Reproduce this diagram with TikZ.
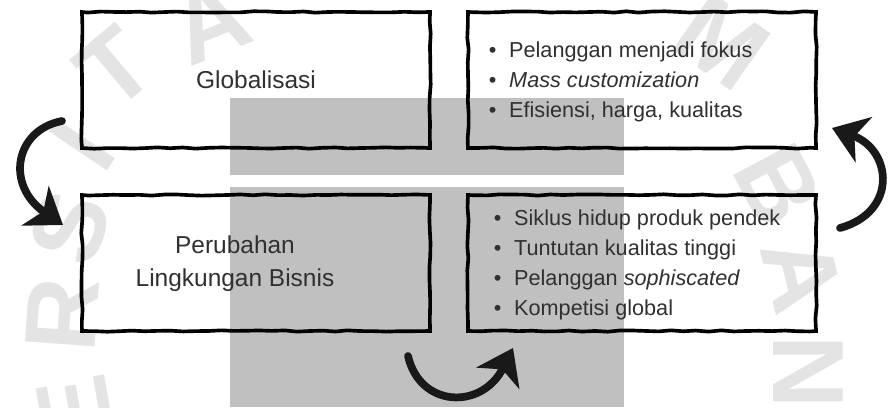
\documentclass[tikz,border=0pt]{standalone}
\usepackage{fontspec}
\setmainfont{Liberation Sans}
\usetikzlibrary{arrows.meta,decorations.pathmorphing}
\definecolor{logogrey}{RGB}{192,192,192}
\definecolor{markgrey}{RGB}{228,228,228}
\definecolor{textgrey}{RGB}{48,48,48}

\begin{document}
\begin{tikzpicture}[x=0.025cm, y=-0.025cm,
    kotak/.style={draw=black, line width=2.6pt, minimum width=8.7cm, minimum height=3.4cm,
        decorate, decoration={random steps, segment length=9pt, amplitude=0.5pt}},
    judul/.style={text=textgrey, font=\fontsize{17.4}{23.5}\selectfont, align=center},
    daftar/.style={text=textgrey, font=\fontsize{15.4}{21.3}\selectfont, align=left, anchor=west},
    panah/.style={line width=5.5pt, black!90, line cap=round,
        -{Stealth[length=24pt, width=34pt, inset=7pt]}},
    huruf/.style={text=markgrey, font=\fontsize{72}{72}\selectfont\bfseries}]
    \useasboundingbox (0,0) rectangle (892,407);
    \clip (0,0) rectangle (892,407);

    % Latar belakang (watermark)
    \node at (115,68) (m1) [huruf, rotate=40] {T};
    \node at (210,22) (m2) [huruf, rotate=22] {A};
    \node at (82,145) (m3) [huruf, rotate=56] {I};
    \node at (70,228) (m4) [huruf, rotate=72] {S};
    \node at (62,315) (m5) [huruf, rotate=86] {R};
    \node at (75,410) (m6) [huruf, rotate=100] {E};
    \node at (722,42) (m7) [huruf, rotate=-35] {M};
    \node at (778,185) (m8) [huruf, rotate=-62] {B};
    \node at (802,275) (m9) [huruf, rotate=-76] {A};
    \node at (808,372) (m10) [huruf, rotate=-90] {N};
    \fill[logogrey] (230,98) rectangle (624,175);
    \fill[logogrey] (230,187) rectangle (624,407);

    % Kotak
    \node at (256,80) (glob) [kotak] {};
    \node at (642,80) (fokus) [kotak] {};
    \node at (256,263) (ling) [kotak] {};
    \node at (642,263) (dampak) [kotak] {};

    % Teks
    \node at (256,80) (tglob) [judul] {Globalisasi};
    \node at (235,264) (tling) [judul] {Perubahan\\Lingkungan Bisnis};
    \node at (484,82) (tfokus) [daftar] {\textbullet\hspace{9pt}Pelanggan menjadi fokus\\
        \textbullet\hspace{9pt}\textit{Mass customization}\\
        \textbullet\hspace{9pt}Efisiensi, harga, kualitas};
    \node at (489,265) (tdampak) [daftar] {\textbullet\hspace{9pt}Siklus hidup produk pendek\\
        \textbullet\hspace{9pt}Tuntutan kualitas tinggi\\
        \textbullet\hspace{9pt}Pelanggan \textit{sophiscated}\\
        \textbullet\hspace{9pt}Kompetisi global};

    % Panah
    \coordinate (p1) at (62,121);
    \coordinate (p2) at (63,225);
    \coordinate (p3) at (408,356);
    \coordinate (p4) at (513,348);
    \coordinate (p5) at (840,228);
    \coordinate (p6) at (832,128);
    \draw[panah] (p1) .. controls (15,130) and (5,185) .. (p2);
    \draw[panah] (p3) .. controls (420,408) and (482,410) .. (p4);
    \draw[panah] (p5) .. controls (898,212) and (892,150) .. (p6);
\end{tikzpicture}
\end{document}
